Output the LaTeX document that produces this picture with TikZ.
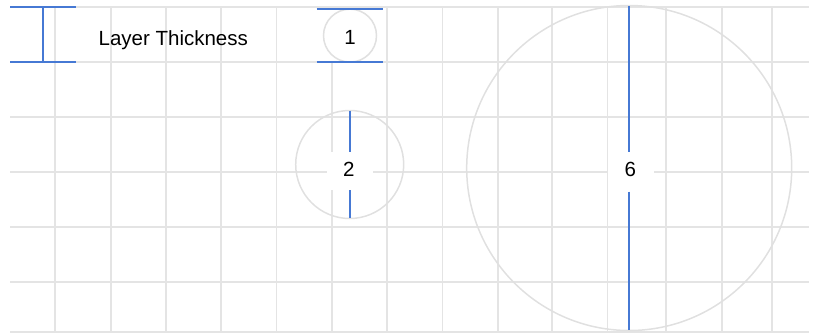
\documentclass[tikz,border=0pt]{standalone}
\usepackage{fontspec}
\setmainfont{Liberation Sans}
\definecolor{gridgray}{HTML}{E4E4E4}
\definecolor{circgray}{HTML}{E0E0E0}
\definecolor{barblue}{HTML}{4679D4}
\tikzset{
  gridline/.style={draw=gridgray, line width=1.6pt},
  ring/.style={circle, draw=circgray, line width=1.5pt, inner sep=0pt},
  bar/.style={draw=barblue, line width=1.9pt},
  maskbox/.style={fill=white, draw=none, inner sep=0pt},
  lbl/.style={font=\fontsize{20.5}{21}\selectfont, text=black, inner sep=0pt, anchor=base}
}
\begin{document}
\begin{tikzpicture}[x=1pt, y=-1pt]
\useasboundingbox (0,0) rectangle (814,333);
% grid
\foreach \yy in {7,62,117,172,227,282,332}
  \draw[gridline] (10,\yy) -- (809,\yy);
\foreach \xx in {55,110.7,165.7,220.7,276.3,331.7,386.7,442.3,497.7,552,607.3,666,722,772}
  \draw[gridline] (\xx,7) -- (\xx,332);
% circles
\node[ring, minimum size=108pt] (c2) at (349.7,164.5) {};
\node[ring, minimum size=325pt] (c6) at (629.2,168) {};
% masks behind labels
\node[maskbox, minimum width=64pt, minimum height=51pt] (b1) at (350,35.6) {};
\node[maskbox, minimum width=46pt, minimum height=38.5pt] (b2) at (350,171) {};
\node[maskbox, minimum width=46pt, minimum height=40pt] (b6) at (630.5,171.5) {};
\node[ring, minimum size=53pt] (c1) at (350,35.6) {};
% legend I-bar
\coordinate (lt1) at (10,7);
\coordinate (lt2) at (76,7);
\coordinate (lb1) at (10,61.7);
\coordinate (lb2) at (76,61.7);
\coordinate (lv1) at (43,7);
\coordinate (lv2) at (43,61.7);
\draw[bar] (lt1) -- (lt2);
\draw[bar] (lb1) -- (lb2);
\draw[bar] (lv1) -- (lv2);
% circle 1 bars
\coordinate (t1a) at (316.7,9.3);
\coordinate (t1b) at (382.7,9.3);
\coordinate (u1a) at (316.7,62);
\coordinate (u1b) at (382.7,62);
\draw[bar] (t1a) -- (t1b);
\draw[bar] (u1a) -- (u1b);
% circle 2 bars
\coordinate (t2) at (350,110.7);
\coordinate (u2) at (350,218.3);
\draw[bar] (t2) -- (b2.north);
\draw[bar] (b2.south) -- (u2);
% circle 6 bars
\coordinate (t6) at (629.3,6);
\coordinate (u6) at (629.3,330);
\draw[bar] (t6) -- (629.3,151.5);
\draw[bar] (629.3,191.5) -- (u6);
% texts
\node[lbl] (tl) at (173.3,45.7) {Layer Thickness};
\node[lbl] (n1) at (350,44.5) {1};
\node[lbl] (n2) at (348.7,176) {2};
\node[lbl] (n6) at (630.3,176) {6};
\end{tikzpicture}
\end{document}
